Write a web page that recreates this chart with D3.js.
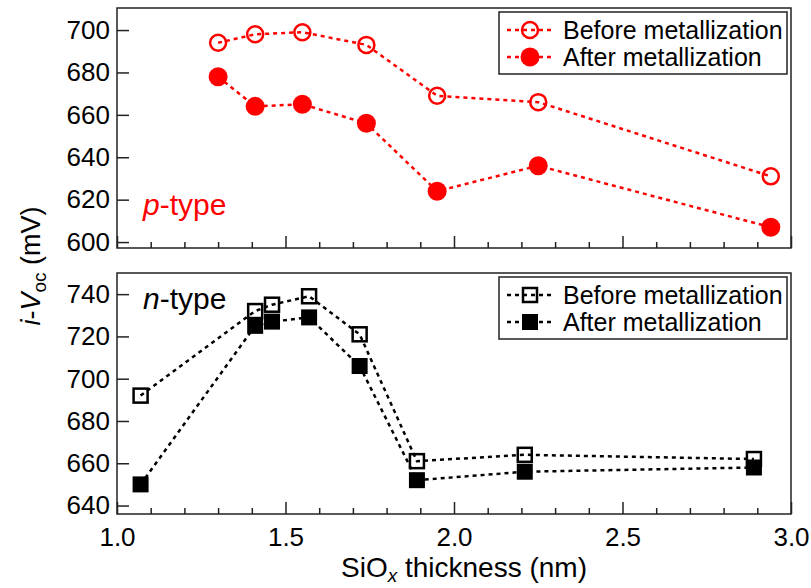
<!DOCTYPE html>
<html><head><meta charset="utf-8">
<script src="https://cdn.jsdelivr.net/npm/d3@7"></script>
<style>body{margin:0;background:#fff}svg{display:block}text{font-family:"Liberation Sans",Arial,sans-serif}</style>
</head><body><svg id="c" width="811" height="588"></svg>
<script>
const pX = [1.30, 1.41, 1.55, 1.74, 1.95, 2.25, 2.94];
const pBefore = [694, 698, 699, 693, 669, 666, 631];
const pAfter = [678, 664, 665, 656, 624, 636, 607];
const nX = [1.07, 1.41, 1.46, 1.57, 1.72, 1.89, 2.21, 2.89];
const nBefore = [692, 732, 735, 739, 721, 661, 664, 662];
const nAfter = [650, 725, 727, 729, 706, 652, 656, 658];
const xTicks = [1.0, 1.5, 2.0, 2.5, 3.0];
const pTicks = [600, 620, 640, 660, 680, 700];
const nTicks = [640, 660, 680, 700, 720, 740];
const legendLabels = ["Before metallization", "After metallization"];

const svg = d3.select("#c");
const L = 117, R = 791;
const x = d3.scaleLinear().domain([1, 3]).range([L, R]);
const yP = d3.scaleLinear().domain([597.2, 710.4]).range([248, 8]);
const yN = d3.scaleLinear().domain([636, 750]).range([514, 273]);
const axisCol = "#222";

function panel(y, ticks, showXLabels) {
  const g = svg.append("g");
  const [b, t] = y.range();
  g.append("rect").attr("x", L).attr("y", t).attr("width", R - L).attr("height", b - t)
    .attr("fill", "none").attr("stroke", axisCol).attr("stroke-width", 1.5);
  const ya = d3.axisLeft(y).tickValues(ticks).tickSize(-12).tickPadding(7).tickFormat(d3.format("d"));
  const yg = g.append("g").attr("transform", `translate(${L},0)`).call(ya);
  yg.select(".domain").remove();
  yg.selectAll("line").attr("stroke", axisCol).attr("stroke-width", 1.5);
  yg.selectAll("text").attr("font-size", 26).attr("fill", "#000").attr("font-family", "Liberation Sans, Arial");
  const minor = d3.range(1.1, 3.0, 0.1).filter(v => Math.abs(v * 2 - Math.round(v * 2)) > 0.01);
  const xaMinor = d3.axisBottom(x).tickValues(minor).tickSize(-6).tickFormat("");
  const gm = g.append("g").attr("transform", `translate(0,${b})`).call(xaMinor);
  gm.select(".domain").remove();
  gm.selectAll("line").attr("stroke", axisCol).attr("stroke-width", 1.5);
  const xa = d3.axisBottom(x).tickValues(xTicks).tickSize(-12).tickPadding(14)
    .tickFormat(showXLabels ? d3.format(".1f") : "");
  const gx = g.append("g").attr("transform", `translate(0,${b})`).call(xa);
  gx.select(".domain").remove();
  gx.selectAll("line").attr("stroke", axisCol).attr("stroke-width", 1.5);
  gx.selectAll("text").attr("font-size", 26).attr("fill", "#000").attr("font-family", "Liberation Sans, Arial");
  return g;
}

panel(yP, pTicks, false);
panel(yN, nTicks, true);

function series(xs, ys, y, color, width, dash) {
  svg.append("path").datum(xs.map((v, i) => [v, ys[i]]))
    .attr("d", d3.line().x(d => x(d[0])).y(d => y(d[1])))
    .attr("fill", "none").attr("stroke", color).attr("stroke-width", width)
    .attr("stroke-dasharray", dash);
}
series(pX, pBefore, yP, "#ff0000", 2.5, "4,4");
series(pX, pAfter, yP, "#ff0000", 2.5, "4,4");
series(nX, nBefore, yN, "#000", 2.5, "4,4");
series(nX, nAfter, yN, "#000", 2.5, "4,4");

function circles(xs, ys, y, filled) {
  svg.append("g").selectAll("circle").data(xs.map((v, i) => [v, ys[i]])).join("circle")
    .attr("cx", d => x(d[0])).attr("cy", d => y(d[1])).attr("r", filled ? 9.5 : 8)
    .attr("fill", filled ? "#ff0000" : "none").attr("stroke", "#ff0000")
    .attr("stroke-width", filled ? 0 : 2.5);
}
function squares(xs, ys, y, filled) {
  const s = filled ? 16 : 14;
  svg.append("g").selectAll("rect").data(xs.map((v, i) => [v, ys[i]])).join("rect")
    .attr("x", d => x(d[0]) - s / 2).attr("y", d => y(d[1]) - s / 2).attr("width", s).attr("height", s)
    .attr("fill", filled ? "#000" : "none").attr("stroke", "#000")
    .attr("stroke-width", filled ? 0 : 2.5);
}
circles(pX, pBefore, yP, false);
circles(pX, pAfter, yP, true);
squares(nX, nBefore, yN, false);
squares(nX, nAfter, yN, true);

function legend(top, color, shape) {
  const g = svg.append("g");
  g.append("rect").attr("x", 499).attr("y", top).attr("width", 288).attr("height", 62)
    .attr("fill", "#fff").attr("stroke", "#222").attr("stroke-width", 1.5);
  legendLabels.forEach((lab, i) => {
    const cy = top + 18 + i * 27;
    g.append("line").attr("x1", 507).attr("x2", 553).attr("y1", cy).attr("y2", cy)
      .attr("stroke", color).attr("stroke-width", 2.5).attr("stroke-dasharray", "4,4");
    const filled = i === 1;
    if (shape === "circle") {
      g.append("circle").attr("cx", 530).attr("cy", cy).attr("r", filled ? 9.5 : 8)
        .attr("fill", filled ? color : "none").attr("stroke", color).attr("stroke-width", filled ? 0 : 2.5);
    } else {
      const s = filled ? 16 : 14;
      g.append("rect").attr("x", 530 - s / 2).attr("y", cy - s / 2).attr("width", s).attr("height", s)
        .attr("fill", filled ? color : "none").attr("stroke", color).attr("stroke-width", filled ? 0 : 2.5);
    }
    g.append("text").attr("x", 563).attr("y", cy + 8.5).attr("font-size", 25).attr("fill", "#000").text(lab);
  });
}
legend(12, "#ff0000", "circle");
legend(277, "#000", "square");

const pt = svg.append("text").attr("x", 143).attr("y", 215).attr("font-size", 30).attr("fill", "#ff0000");
pt.append("tspan").attr("font-style", "italic").text("p");
pt.append("tspan").text("-type");
const nt = svg.append("text").attr("x", 143).attr("y", 309).attr("font-size", 30).attr("fill", "#000");
nt.append("tspan").attr("font-style", "italic").text("n");
nt.append("tspan").text("-type");

const xt = svg.append("text").attr("x", 464).attr("y", 577).attr("text-anchor", "middle").attr("font-size", 28).attr("fill", "#000");
xt.append("tspan").text("SiO");
xt.append("tspan").attr("font-size", 19).attr("font-style", "italic").attr("dy", 5).text("x");
xt.append("tspan").attr("dy", -5).text(" thickness (nm)");

const yt = svg.append("text").attr("transform", "translate(40,266) rotate(-90)").attr("text-anchor", "middle")
  .attr("font-size", 27).attr("fill", "#000");
yt.append("tspan").attr("font-style", "italic").text("i");
yt.append("tspan").text("-");
yt.append("tspan").attr("font-style", "italic").text("V");
yt.append("tspan").attr("font-size", 19).attr("dy", 6).text("oc");
yt.append("tspan").attr("dy", -6).text(" (mV)");
</script></body></html>
